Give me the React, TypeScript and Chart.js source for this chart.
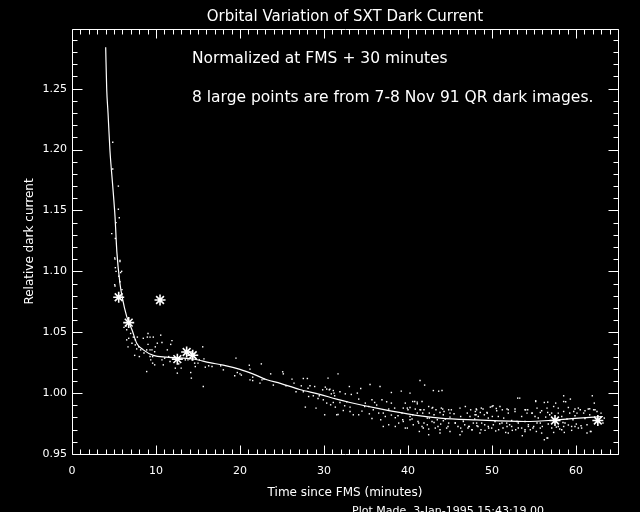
import React, { useEffect, useRef } from "react";
import { Chart, registerables } from "chart.js";

Chart.register(...registerables);

// ---- text ----
const titleText = "Orbital Variation of SXT Dark Current";
const note1 = "Normalized at FMS + 30 minutes";
const note2 = "8 large points are from 7-8 Nov 91 QR dark images.";
const xTitle = "Time since FMS (minutes)";
const yTitle = "Relative dark current";
const stamp = "Plot Made  3-Jan-1995 15:43:19.00";

// ---- axes ----
const xMin = 0;
const xMax = 65;
const yMin = 0.95;
const yMax = 1.299;
const xMajorTicks = [0, 10, 20, 30, 40, 50, 60];
const yMajorTicks = [0.95, 1.0, 1.05, 1.1, 1.15, 1.2, 1.25];
const xMinorStep = 1;
const yMinorStep = 0.01;

// ---- smoothed curve ----
const curveX = [4.01, 4.13, 4.29, 4.52, 4.85, 5.12, 5.34, 5.71, 6.0, 6.51, 7.14, 7.7, 8.49, 9.68, 11.27, 14.4, 16.4, 18.0, 20.0, 21.6, 23.2, 24.8, 27.1, 29.5, 31.5, 33.1, 36.7, 40.8, 43.8, 48.2, 53.9, 57.5, 59.9, 63.2];
const curveY = [1.284, 1.25, 1.23, 1.199, 1.17, 1.145, 1.116, 1.09, 1.078, 1.063, 1.052, 1.041, 1.0355, 1.031, 1.0295, 1.028, 1.025, 1.023, 1.0195, 1.0156, 1.011, 1.008, 1.003, 0.999, 0.995, 0.9923, 0.987, 0.982, 0.9795, 0.978, 0.9767, 0.9778, 0.9792, 0.9808];

// ---- 8 large points (QR dark images) ----
const bigX = [5.56, 6.75, 10.48, 12.54, 13.65, 14.37, 57.5, 62.6];
const bigY = [1.0787, 1.0579, 1.0765, 1.0279, 1.0338, 1.0311, 0.9775, 0.9775];

// ---- small measurement dots ----
const dotX = [
  4.85, 4.85, 5.52, 5.52, 5.63, 4.73, 5.24, 5.16, 5.12, 5.71, 5.91, 5.12,
  5.16, 5.71, 5.08, 5.24, 5.79, 5.56, 5.08, 5.71, 5.95, 6.43, 6.19, 6.51, 6.98, 6.75, 6.51, 7.3, 7.54, 7.78,
  7.14, 6.67, 7.54, 7.94, 7.7, 8.17, 8.49, 9.05, 8.97, 9.29, 9.68, 10.56, 10.71, 10.16, 9.92, 9.05, 9.29,
  9.52, 9.84, 8.89, 8.57, 7.46, 8.02, 9.29, 9.6, 9.37, 9.6, 9.84, 10.71, 11.03, 10.87, 11.35, 11.75, 11.9,
  11.51, 11.67, 12.78, 12.7, 12.54, 8.89, 12.3, 13.0, 13.49, 13.81, 14.29, 14.29, 14.6, 15.0, 14.68, 15.16,
  15.56, 15.71, 14.13, 14.21, 15.63,
  19.52, 15.87, 16.27, 16.67, 17.7, 18.02, 19.37, 19.68, 20.0, 20.16, 21.11, 21.19, 22.54, 21.51, 21.19,
  21.51, 22.38, 22.62, 22.86, 23.65, 23.97, 25.08, 25.16, 25.48, 26.19, 26.43, 26.67, 27.54, 28.02, 27.3,
  28.1, 28.33, 28.89, 27.54, 28.17, 28.73, 29.44, 29.29, 29.84, 30.16, 30.48, 30.32, 30.63, 31.11, 30.87,
  31.27, 31.67, 30.32, 30.79, 29.92, 27.78, 29.05, 30.08, 31.35, 31.51,
  30.71, 31.19, 31.9, 32.54, 33.02, 33.25, 34.37, 33.97, 35.48, 36.67, 38.02, 39.2, 40.24, 41.43, 41.98,
  43.02, 43.65, 44.05, 31.67, 32.3, 33.1, 33.49, 34.52, 34.84, 35.4, 35.87, 36.27, 36.9, 37.46, 36.75,
  37.06, 38.02, 38.49, 38.89, 38.49, 39.37, 39.68, 40.56, 41.11, 41.51, 40.48, 39.92, 41.19, 41.67, 42.3,
  42.54, 42.86, 43.1, 42.46, 43.57, 43.81, 44.13, 44.44, 44.84, 44.6, 45.16, 45.48, 45.95, 46.19, 46.59,
  47.06, 47.3, 47.62, 47.94, 48.17, 48.33, 40.56, 41.11, 39.29, 35.71, 38.02,
  31.11, 31.9, 32.46, 32.7, 34.13, 34.92, 35.32, 35.71, 36.03, 36.51, 37.3, 37.7, 38.41, 38.81, 39.92,
  40.24, 40.87, 41.75, 41.9, 42.54, 43.1, 43.49, 44.2, 45.0, 45.63, 46.27, 46.75, 47.38, 47.78, 48.1,
  33.1, 34.13, 37.7, 37.06, 41.35, 43.81, 46.43, 47.14,
  48.13, 48.61, 48.93, 49.8, 50.12, 49.4, 50.51, 51.23, 51.79, 52.74, 53.06, 53.3, 54.01, 54.25, 55.2,
  55.75, 56.23, 56.63, 57.34, 57.58, 58.53, 58.77, 59.33, 59.25, 59.88, 60.51, 61.46, 61.94, 62.18, 62.98,
  48.21, 48.69, 49.17, 49.96, 50.44, 50.92, 51.63, 52.1, 52.42, 52.82, 53.61, 54.33, 54.56, 55.28, 55.91,
  56.23, 56.63, 57.11, 57.66, 58.06, 58.53, 59.09, 59.48, 60.28, 60.6, 61.31, 61.79, 55.12, 55.51, 56.39,
  48.37, 49.56, 51.39, 53.53, 58.3, 59.88, 61.07, 63.37, 63.21,
  47.98, 49.09, 50.04, 50.36, 50.75, 51.94, 52.34, 53.13, 53.93, 54.73, 55.75, 56.87, 57.89, 58.45, 58.93,
  59.64, 60.12, 60.91, 61.63, 62.1, 62.5, 48.77, 49.56, 51.31, 51.79, 53.93, 54.96, 55.75, 57.34, 58.61, 59.88,
  41.1, 41.67, 39.44, 40.0, 40.24, 41.43, 41.9, 42.46, 42.94, 43.33, 43.97, 44.29, 44.84, 45.0, 46.83,
  47.46, 48.02, 48.73, 49.44, 50.0, 50.56, 50.95, 39.44, 39.68, 40.24, 40.63, 41.27, 41.82, 42.3, 42.86,
  43.25, 43.89, 44.21, 44.76, 45.0, 45.63, 46.27, 46.59, 47.22, 47.62, 48.17, 48.57, 49.13, 49.6, 50.16,
  50.79, 51.19, 46.19, 43.81, 42.46, 40.8,
  51.94, 52.74, 53.93, 54.17, 54.8, 55.36, 55.91, 56.55, 57.1, 57.89, 58.53, 59.09, 59.73, 60.28, 61.07,
  61.63, 62.26, 58.53, 56.63, 55.2, 51.75, 52.34, 52.98, 53.53, 54.33, 54.88, 55.36, 55.99, 56.7, 57.89,
  58.69, 59.48, 60.04, 60.67, 61.31, 61.71, 51.94, 53.93, 58.3, 56.55, 53.13,
];
const dotY = [
  1.206, 1.184, 1.17, 1.151, 1.144, 1.131, 1.14, 1.127, 1.11, 1.108, 1.1, 1.088,
  1.103, 1.109, 1.111, 1.1, 1.099, 1.096, 1.089, 1.0915, 1.085, 1.055, 1.054, 1.052, 1.049, 1.045, 1.0437, 1.046, 1.0437, 1.046,
  1.041, 1.038, 1.0396, 1.038, 1.0363, 1.0355, 1.045, 1.049, 1.046, 1.046, 1.046, 1.0476, 1.0415, 1.041, 1.038, 1.04, 1.0355,
  1.0355, 1.034, 1.0355, 1.033, 1.031, 1.03, 1.03, 1.03, 1.0273, 1.0246, 1.0232, 1.0273, 1.0287, 1.0232, 1.0355, 1.04, 1.0431,
  1.03, 1.026, 1.0287, 1.024, 1.0164, 1.0177, 1.0205, 1.0205, 1.0273, 1.0273, 1.0306, 1.0273, 1.0246, 1.0246, 1.0218, 1.0273,
  1.038, 1.0281, 1.0169, 1.0123, 1.0054,
  1.0287, 1.0213, 1.0224, 1.0218, 1.0224, 1.0191, 1.0142, 1.0169, 1.0158, 1.0148, 1.0229, 1.0197, 1.024, 1.0131, 1.0109,
  1.0103, 1.0082, 1.0109, 1.0115, 1.0158, 1.0066, 1.0175, 1.0158, 1.006, 1.0115, 1.0082, 1.0011, 1.012, 1.012, 1.006,
  1.004, 1.006, 1.0054, 1.0011, 0.9972, 0.9978, 0.9978, 0.9956, 1.0027, 1.0049, 1.0123, 1.0033, 1.0027, 1.0021, 0.9994,
  0.9978, 1.0158, 0.9918, 0.9904, 0.9945, 0.9885, 0.9877, 0.9822, 0.9885, 0.9822,
  1.0033, 1.0, 1.0011, 0.9994, 1.0054, 0.9989, 1.0038, 1.0, 1.0071, 1.0054, 1.0005, 1.0016, 1.0, 1.0103, 1.0066,
  1.0021, 1.0016, 1.0021, 0.9825, 0.9857, 0.9885, 0.9822, 0.9852, 0.989, 0.983, 0.9863, 0.9902, 0.9945, 0.9929, 0.9781,
  0.9836, 0.982, 0.9798, 0.9754, 0.9726, 0.9781, 0.9918, 0.9931, 0.9912, 0.9863, 0.9787, 0.9713, 0.9767, 0.9726, 0.9795,
  0.9836, 0.9877, 0.9759, 0.9705, 0.9726, 0.9841, 0.9869, 0.9787, 0.9754, 0.9713, 0.9863, 0.983, 0.9726, 0.9877, 0.9781,
  0.9836, 0.9726, 0.9699, 0.9787, 0.9863, 0.9726, 0.9822, 0.9836, 0.9836, 0.9792, 0.9918,
  0.9923, 0.9923, 0.9896, 0.9929, 0.9951, 0.9918, 0.989, 0.9945, 0.9923, 0.9836, 0.9808, 0.9869, 0.9877, 0.9814, 0.9877,
  0.9808, 0.9869, 0.9836, 0.9754, 0.9795, 0.9822, 0.9781, 0.9822, 0.9803, 0.9754, 0.9808, 0.974, 0.9808, 0.9754, 0.9822,
  0.9849, 0.9822, 0.974, 0.9726, 0.9685, 0.9699, 0.9685, 0.9713,
  0.9869, 0.9841, 0.9869, 0.9885, 0.9896, 0.9841, 0.9874, 0.9863, 0.9869, 0.9869, 0.9959, 0.9959, 0.9863, 0.9863, 0.9931,
  0.9841, 0.9923, 0.9841, 0.989, 0.9918, 0.9978, 0.9929, 0.9951, 0.9836, 0.9869, 0.9863, 0.9869, 0.9978, 0.9918, 0.9836,
  0.9732, 0.9699, 0.9694, 0.9713, 0.9689, 0.9748, 0.9677, 0.974, 0.9694, 0.9699, 0.965, 0.9726, 0.9699, 0.9685, 0.9672,
  0.9617, 0.9631, 0.9713, 0.9721, 0.9705, 0.9726, 0.9738, 0.9694, 0.9713, 0.9732, 0.9672, 0.9685, 0.9808, 0.9795, 0.9803,
  0.9808, 0.9795, 0.9795, 0.9808, 0.9808, 0.9814, 0.9792, 0.9795, 0.9754,
  0.9822, 0.9822, 0.9808, 0.9767, 0.9808, 0.9836, 0.9775, 0.9754, 0.9767, 0.9836, 0.9754, 0.9822, 0.9836, 0.9759, 0.9787,
  0.9781, 0.9836, 0.9836, 0.9822, 0.9863, 0.9849, 0.9754, 0.9726, 0.9713, 0.9726, 0.9699, 0.9726, 0.9713, 0.9677, 0.9677, 0.9726,
  0.9926, 0.9931, 0.9877, 0.9863, 0.9882, 0.9863, 0.9863, 0.989, 0.9882, 0.9863, 0.9877, 0.9849, 0.9863, 0.9836, 0.989,
  0.9863, 0.9849, 0.9877, 0.9836, 0.989, 0.9855, 0.989, 0.9767, 0.9713, 0.9781, 0.974, 0.9754, 0.9713, 0.974, 0.9767,
  0.9713, 0.9746, 0.9773, 0.9726, 0.9685, 0.9754, 0.9713, 0.9767, 0.9726, 0.9699, 0.9754, 0.9672, 0.974, 0.9713, 0.974,
  0.9699, 0.9754, 0.9658, 0.9672, 0.9658, 0.9931,
  0.9863, 0.9849, 0.9863, 0.9836, 0.9836, 0.9877, 0.9855, 0.9877, 0.9836, 0.9877, 0.9849, 0.9882, 0.9849, 0.9877, 0.9855,
  0.9871, 0.9863, 0.9931, 0.9926, 0.9937, 0.9754, 0.9726, 0.9767, 0.9713, 0.974, 0.9713, 0.9754, 0.9726, 0.9746, 0.9726,
  0.9754, 0.9726, 0.9746, 0.9713, 0.974, 0.9685, 0.9672, 0.9685, 0.9699, 0.9631, 0.9713,
];

const FONT = "DejaVu Sans";
const WHITE = "#ffffff";

const framePlugin = {
  id: "idlFrame",
  afterDatasetsDraw(chart: any) {
    const { ctx, chartArea: a, scales } = chart;
    const xs = scales.x;
    const ys = scales.y;
    const L = Math.round(a.left) + 0.5;
    const R = Math.round(a.right) + 0.5;
    const T = Math.round(a.top) + 0.5;
    const B = Math.round(a.bottom) + 0.5;
    ctx.save();
    ctx.strokeStyle = WHITE;
    ctx.lineWidth = 1;
    ctx.beginPath();
    ctx.rect(L, T, R - L, B - T);
    const nx = Math.round((xMax - xMin) / xMinorStep);
    for (let i = 0; i <= nx; i++) {
      const v = xMin + i * xMinorStep;
      const major = xMajorTicks.some((t) => Math.abs(t - v) < 1e-6);
      const len = major ? 9 : 5;
      const px = Math.round(xs.getPixelForValue(v)) + 0.5;
      ctx.moveTo(px, B);
      ctx.lineTo(px, B - len);
      ctx.moveTo(px, T);
      ctx.lineTo(px, T + len);
    }
    const ny = Math.floor((yMax - yMin) / yMinorStep + 1e-6);
    for (let i = 0; i <= ny; i++) {
      const v = yMin + i * yMinorStep;
      const major = yMajorTicks.some((t) => Math.abs(t - v) < 1e-6);
      const len = major ? 10 : 5;
      const py = Math.round(ys.getPixelForValue(v)) + 0.5;
      ctx.moveTo(L, py);
      ctx.lineTo(L + len, py);
      ctx.moveTo(R, py);
      ctx.lineTo(R - len, py);
    }
    ctx.stroke();

    ctx.fillStyle = WHITE;
    ctx.textBaseline = "alphabetic";
    const cx = (a.left + a.right) / 2;

    ctx.font = `15px "${FONT}"`;
    ctx.textAlign = "center";
    ctx.fillText(titleText, cx, 21);

    ctx.font = `15.5px "${FONT}"`;
    ctx.textAlign = "left";
    ctx.fillText(note1, 192, 63);
    ctx.fillText(note2, 192, 102);

    ctx.font = `12px "${FONT}"`;
    ctx.textAlign = "center";
    ctx.fillText(xTitle, cx, 496);

    ctx.save();
    ctx.translate(33, (a.top + a.bottom) / 2);
    ctx.rotate(-Math.PI / 2);
    ctx.font = `12px "${FONT}"`;
    ctx.textAlign = "center";
    ctx.fillText(yTitle, 0, 0);
    ctx.restore();

    ctx.font = `11px "${FONT}"`;
    ctx.textAlign = "left";
    ctx.fillText(stamp, 352, 514);
    ctx.restore();
  },
};

export default function App() {
  const ref = useRef<HTMLCanvasElement | null>(null);

  useEffect(() => {
    document.body.style.margin = "0";
    document.body.style.background = "#000";
    const canvas = ref.current;
    if (!canvas) return;

    const curve = curveX.map((x, i) => ({ x, y: curveY[i] }));
    const big = bigX.map((x, i) => ({ x, y: bigY[i] }));
    const dots = dotX.map((x, i) => ({ x, y: dotY[i] }));

    const chart = new Chart(canvas, {
      type: "scatter",
      data: {
        datasets: [
          {
            label: "dots",
            data: dots,
            pointStyle: "rect",
            pointRadius: 1,
            pointBackgroundColor: WHITE,
            pointBorderWidth: 0,
            showLine: false,
          },
          {
            label: "curve",
            data: curve,
            showLine: true,
            borderColor: WHITE,
            borderWidth: 1.2,
            pointRadius: 0,
            cubicInterpolationMode: "monotone",
            fill: false,
          },
          {
            label: "QR dark images",
            data: big,
            pointStyle: "star",
            pointRadius: 5.5,
            pointBorderColor: WHITE,
            pointBackgroundColor: WHITE,
            pointBorderWidth: 1.6,
            showLine: false,
          },
        ],
      } as any,
      options: {
        responsive: false,
        animation: false,
        events: [],
        layout: { padding: { top: 29, right: 22, left: 0, bottom: 0 } },
        plugins: {
          legend: { display: false },
          tooltip: { enabled: false },
          title: { display: false },
        },
        scales: {
          x: {
            type: "linear",
            min: xMin,
            max: xMax,
            afterFit: (s: any) => {
              s.height = 58;
            },
            grid: { display: false, drawTicks: false },
            border: { display: false },
            ticks: {
              stepSize: 10,
              includeBounds: false,
              color: WHITE,
              maxRotation: 0,
              autoSkip: false,
              padding: 11,
              font: { family: FONT, size: 11 },
            },
          },
          y: {
            type: "linear",
            min: yMin,
            max: yMax,
            afterFit: (s: any) => {
              s.width = 72;
            },
            grid: { display: false, drawTicks: false },
            border: { display: false },
            ticks: {
              stepSize: 0.05,
              includeBounds: false,
              color: WHITE,
              autoSkip: false,
              padding: 5,
              font: { family: FONT, size: 11 },
              callback: (v: any) => Number(v).toFixed(2),
            },
          },
        },
      } as any,
      plugins: [framePlugin],
    });

    return () => chart.destroy();
  }, []);

  return (
    <div style={{ width: 640, height: 512, background: "#000", position: "relative" }}>
      <canvas ref={ref} width={640} height={512} style={{ display: "block" }} />
    </div>
  );
}
